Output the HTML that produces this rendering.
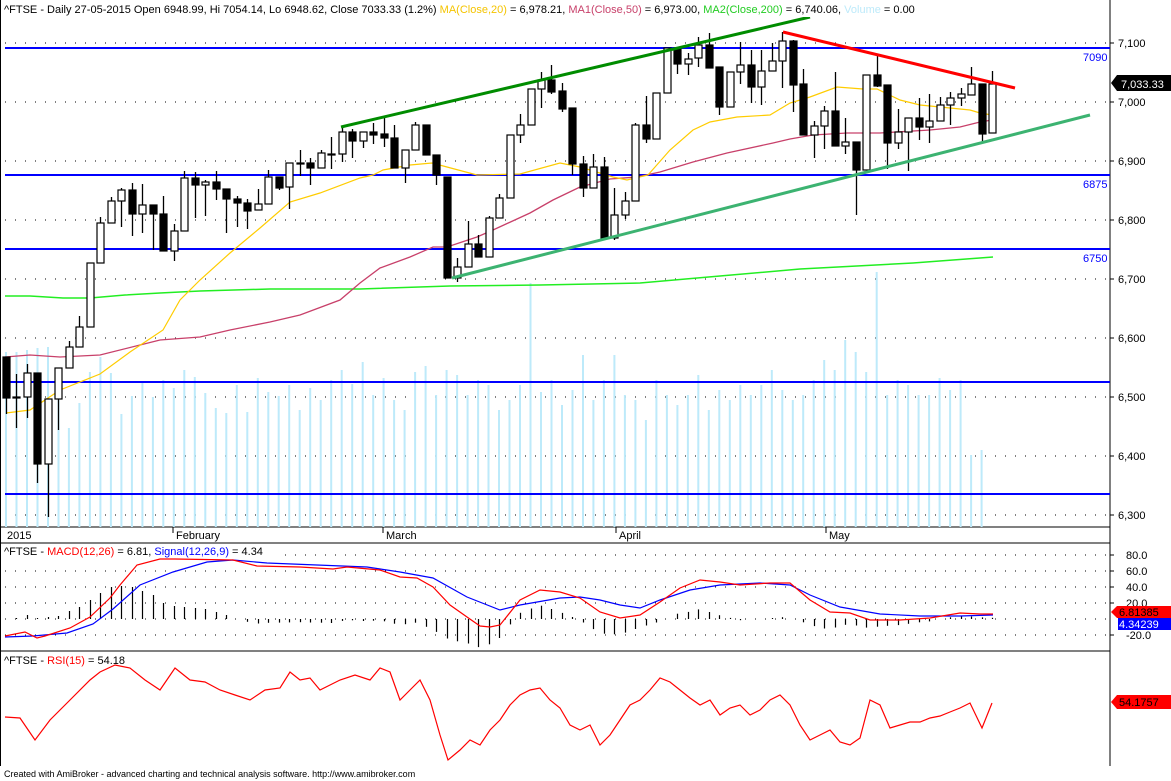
<!DOCTYPE html>
<html><head><meta charset="utf-8"><style>
html,body{margin:0;padding:0;background:#fff;}
svg{display:block;font-family:"Liberation Sans",Arial,sans-serif;}
</style></head><body>
<svg id="c" width="1171" height="781" viewBox="0 0 1171 781" xmlns="http://www.w3.org/2000/svg"></svg>
<script>
var S=document.getElementById('c');var out='';
function L(x1,y1,x2,y2,c,w,extra){out+='<line x1="'+x1+'" y1="'+y1+'" x2="'+x2+'" y2="'+y2+'" stroke="'+c+'" stroke-width="'+(w||1)+'" '+(extra||'')+'/>';}
function P(pts,c,w){out+='<polyline fill="none" stroke="'+c+'" stroke-width="'+(w||1)+'" points="'+pts.map(function(p){return p.join(',')}).join(' ')+'"/>';}
function T(x,y,s,c,sz,anc){out+='<text x="'+x+'" y="'+y+'" fill="'+(c||'#000')+'" font-size="'+(sz||11)+'"'+(anc?' text-anchor="'+anc+'"':'')+'>'+s+'</text>';}
var AX=1110;
L(0,0,0,766,'#000',2);
L(AX,0,AX,766,'#000',1);
L(0,527,AX,527,'#000',1);
L(0,543,AX,543,'#000',1);
L(0,651,AX,651,'#000',1);
var gy=[43,102,161,220,279,338,397,456,515],gl=['7,100','7,000','6,900','6,800','6,700','6,600','6,500','6,400','6,300'];
gy.forEach(function(y,i){L(5,y,AX,y,'#000',1,'stroke-dasharray="1 9"');L(AX,y,AX+4,y,'#000');T(1118,y+4,gl[i],'#000',11);});
var vt=[352,352,350,348,347,400,428,403,372,357,373,414,396,383,397,380,388,370,377,393,408,413,385,412,378,392,396,385,410,388,400,380,370,384,362,395,378,400,410,372,366,395,370,375,395,380,385,410,400,385,283,392,380,405,390,355,400,380,355,395,400,420,380,395,405,395,375,410,390,400,385,395,385,370,390,400,395,380,360,370,340,352,372,272,395,380,385,395,395,378,390,380,455,450,460];
function cx(i){return 6+i*10.49;}
for(var i=0;i<95;i++){if(i==94)continue;L(cx(i).toFixed(1),vt[i],cx(i).toFixed(1),527,'#bdeafa',2);}
[48,175,249,382,494].forEach(function(y){L(5,y,AX,y,'#0000ff',2);});
T(1083,61,'7090','#0000ff',11);T(1083,188,'6875','#0000ff',11);T(1083,262,'6750','#0000ff',11);
P([[5,296],[30,296],[63,298],[90,298],[125,295],[160,293],[200,291],[270,289],[360,289],[450,286],[540,285],[640,283],[720,276],[800,269],[913,263],[993,257]],'#22ee22',1.5);
P([[5,357],[30,355],[60,357],[100,355],[140,345],[160,340],[200,337],[230,330],[270,322],[300,315],[340,300],[360,283],[380,268],[410,257],[433,247],[447,247],[477,237],[493,230],[530,213],[553,200],[580,187],[610,179],[637,177],[660,172],[693,162],[727,153],[773,143],[790,139],[813,135],[847,133],[880,133],[930,130],[960,127],[980,122],[992,120]],'#c8406a',1.3);
P([[6,413],[30,410],[60,390],[100,374],[130,352],[163,330],[180,300],[200,280],[230,253],[260,228],[290,202],[320,193],[360,178],[373,175],[383,170],[410,165],[432,163],[447,167],[477,175],[520,174],[560,163],[580,167],[613,177],[627,180],[648,175],[670,150],[693,130],[710,122],[737,117],[770,115],[790,103],[810,97],[837,87],[863,89],[877,89],[900,100],[920,105],[950,108],[970,110],[980,113],[992,115]],'#ffcc00',1.2);
var C=[[357,398,357,414,1],[397,397,374,428,0],[373,397,364,418,0],[373,464,373,483,1],[399,464,399,517,0],[368,399,368,430,0],[347,368,341,368,0],[327,347,316,347,0],[263,327,263,327,0],[223,263,217,263,0],[201,223,197,223,0],[190,201,188,227,0],[190,214,183,236,1],[205,214,184,233,0],[205,214,205,250,1],[214,251,196,251,1],[231,251,224,261,0],[178,231,171,231,0],[178,185,172,218,1],[182,185,180,216,0],[182,189,171,200,1],[189,199,189,233,1],[199,203,196,227,1],[203,211,199,229,1],[204,210,189,210,0],[177,204,170,204,0],[177,188,177,190,1],[163,187,163,209,0],[163,163,150,176,0],[163,168,158,185,1],[153,168,150,168,0],[154,154,137,169,0],[132,154,127,162,0],[132,141,129,158,1],[132,141,132,148,0],[132,135,123,144,1],[134,138,117,147,1],[138,168,125,168,1],[150,168,150,183,0],[125,150,122,150,0],[125,155,125,155,1],[155,175,155,185,1],[177,278,177,278,1],[267,278,258,282,0],[244,267,221,267,0],[244,257,235,257,1],[218,257,216,257,0],[198,218,194,218,0],[135,198,135,198,0],[125,135,114,143,0],[89,125,89,125,0],[80,89,72,108,0],[80,92,65,94,1],[91,109,83,112,1],[108,164,108,175,1],[164,188,156,197,1],[167,188,154,188,0],[167,238,157,238,1],[215,238,188,240,0],[201,215,192,219,0],[125,201,123,201,0],[125,139,96,143,1],[93,139,93,139,0],[48,93,48,93,0],[48,64,48,74,1],[59,64,53,75,0],[45,58,37,67,0],[45,68,33,68,1],[67,107,67,115,1],[72,107,72,107,0],[65,72,42,84,0],[65,87,50,103,1],[71,87,50,105,0],[61,71,43,71,0],[41,61,32,88,0],[41,85,40,112,1],[84,135,69,135,1],[126,135,121,158,0],[111,126,106,149,0],[111,146,72,146,1],[142,146,118,154,0],[142,170,142,215,1],[75,170,75,170,0],[75,86,56,87,1],[85,143,85,169,1],[132,143,109,149,0],[118,132,118,171,0],[118,127,98,140,1],[121,127,94,143,0],[105,121,97,121,0],[98,105,92,125,0],[94,98,88,106,0],[84,95,67,95,0],[84,134,84,142,1],[84,133,71,133,0]];
C.forEach(function(c,i){var x=Math.round(cx(i))+0.5;L(x,c[2],x,c[3],'#000',1.3);var h=Math.max(c[1]-c[0],1);
out+='<rect x="'+(x-3.5)+'" y="'+c[0]+'" width="7" height="'+h+'" fill="'+(c[4]?'#000':'#fff')+'" stroke="#000" stroke-width="1.2"/>';});
L(341,127,810,17,'#008c00',3);L(452,278,1090,115,'#3cb371',3);L(783,32,1015,88,'#ff0000',3);
out+='<polygon points="1111,83 1117,75 1171,75 1171,91 1117,91" fill="#000"/>';T(1121,88,'7,033.33','#fff',11);
[[5,'2015'],[173,'February'],[383,'March'],[616,'April'],[826,'May']].forEach(function(m){if(m[0]>10)L(m[0],527,m[0],533,'#000');T(m[0]+(m[0]>10?3:2),539,m[1],'#000',11);});
[[555,'80.0'],[571,'60.0'],[587,'40.0'],[603,'20.0'],[635,'-20.0']].forEach(function(g){L(5,g[0],AX,g[0],'#000',1,'stroke-dasharray="1 9"');L(AX,g[0],AX+4,g[0],'#000');T(1126,g[0]+4,g[1],'#000',11);});
L(5,619,AX,619,'#000',1,'stroke-dasharray="1 9"');
var hy=[619,618,615,618,617,616,611,607,600,593,587,586,587,591,595,603,606,607,608,609,612,615];
var red=[[5,636],[25,632],[37,638],[45,636],[70,628],[90,617],[110,598],[120,585],[137,565],[160,559],[175,559],[233,560],[257,566],[300,567],[333,569],[347,567],[380,570],[400,577],[417,578],[433,587],[450,605],[467,617],[480,626],[490,627],[500,625],[520,600],[540,590],[560,592],[580,598],[600,612],[620,618],[640,615],[660,602],[680,588],[700,580],[720,582],[740,585],[770,583],[790,583],[810,600],[830,612],[850,613],[870,620],[900,620],[930,618],[960,613],[980,614],[993,614]];
var blue=[[5,637],[33,636],[67,633],[93,624],[113,609],[140,585],[173,572],[207,562],[233,560],[267,563],[367,567],[400,572],[433,578],[467,597],[500,610],[520,605],[560,598],[580,597],[600,600],[620,605],[640,608],[660,600],[690,590],[720,585],[760,583],[790,585],[810,595],[840,607],[880,614],[920,616],[960,616],[993,615]];
function itp(a,x){for(var k=0;k<a.length-1;k++){if(x>=a[k][0]&&x<=a[k+1][0]){var t=(x-a[k][0])/(a[k+1][0]-a[k][0]);return a[k][1]+t*(a[k+1][1]-a[k][1]);}}return a[a.length-1][1];}
for(var i=0;i<95;i++){var x=Math.round(cx(i))+0.5,y;
if(i<22)y=hy[i];else{var d=itp(red,x)-itp(blue,x);y=619+d*1.2;if(x>440&&x<500)y=Math.max(y,638);}
if(Math.abs(y-619)>=1)L(x,619,x,y.toFixed(1),'#000',1.2);}
P(blue,'#0000ff',1.2);P(red,'#ff0000',1.2);
out+='<rect x="3" y="545" width="282" height="13" fill="#fff"/>';
out+='<text x="4" y="555" font-size="11"><tspan fill="#000">^FTSE - </tspan><tspan fill="#ff0000">MACD(12,26)</tspan><tspan fill="#000"> = 6.81, </tspan><tspan fill="#0000ff">Signal(12,26,9)</tspan><tspan fill="#000"> = 4.34</tspan></text>';
out+='<polygon points="1111,612 1117,606 1171,606 1171,618 1117,618" fill="#ff0000"/>';T(1119,616,'6.81385','#000',11);
out+='<rect x="1118" y="618" width="53" height="12" fill="#0000ff"/>';T(1119,628,'4.34239','#fff',11);
var rsi=[[5,717],[20,718],[35,740],[50,720],[70,700],[90,680],[100,672],[115,665],[130,668],[145,680],[160,690],[175,668],[190,680],[205,682],[220,690],[235,695],[250,700],[265,690],[280,688],[290,672],[300,680],[310,678],[320,690],[340,680],[355,675],[370,680],[380,668],[390,672],[400,700],[410,690],[420,680],[430,700],[440,735],[448,760],[460,750],[470,740],[480,745],[490,730],[500,720],[510,705],[520,695],[530,690],[540,688],[550,700],[560,708],[570,725],[580,730],[590,725],[600,745],[610,735],[620,720],[630,705],[640,700],[650,690],[660,678],[670,682],[680,690],[690,698],[700,705],[710,700],[720,715],[730,708],[740,705],[750,715],[760,710],[770,700],[780,695],[790,705],[800,725],[810,740],[820,735],[830,730],[840,742],[850,745],[860,738],[870,700],[880,705],[890,728],[900,725],[910,722],[920,722],[930,718],[940,716],[950,712],[960,708],[970,703],[982,728],[992,703]];
P(rsi,'#ff0000',1.2);
out+='<text x="4" y="664" font-size="11"><tspan fill="#000">^FTSE - </tspan><tspan fill="#ff0000">RSI(15)</tspan><tspan fill="#000"> = 54.18</tspan></text>';
out+='<polygon points="1111,702 1117,695 1171,695 1171,709 1117,709" fill="#ff0000"/>';T(1119,706,'54.1757','#000',11);
out+='<rect x="2" y="1" width="1100" height="16" fill="#fff"/>';
out+='<text x="4" y="13" font-size="11"><tspan fill="#000">^FTSE - Daily 27-05-2015 Open 6948.99, Hi 7054.14, Lo 6948.62, Close 7033.33 (1.2%) </tspan><tspan fill="#f5c400">MA(Close,20)</tspan><tspan fill="#000"> = 6,978.21, </tspan><tspan fill="#c8406a">MA1(Close,50)</tspan><tspan fill="#000"> = 6,973.00, </tspan><tspan fill="#22cc22">MA2(Close,200)</tspan><tspan fill="#000"> = 6,740.06, </tspan><tspan fill="#bdeafa">Volume</tspan><tspan fill="#000"> = 0.00</tspan></text>';
T(4,777,'Created with AmiBroker - advanced charting and technical analysis software. http://www.amibroker.com','#000',9);
S.innerHTML=out;
</script>
</body></html>
